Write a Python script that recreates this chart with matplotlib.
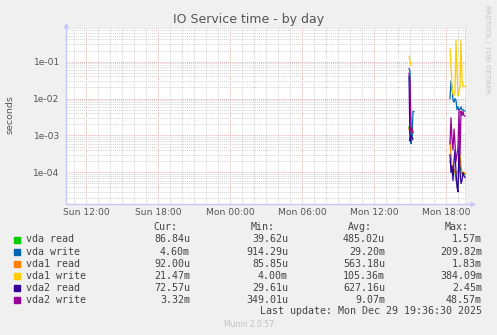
import matplotlib
matplotlib.use('Agg')
import matplotlib.pyplot as plt
import matplotlib.dates as mdates
from matplotlib.patches import Rectangle
from matplotlib.ticker import LogLocator, NullFormatter, FixedLocator
import numpy as np
import pandas as pd

W, H = 497, 335
nan = np.nan

# visible window, 5 minutes per pixel
t_start = pd.Timestamp('2025-12-28 10:20')
t_end = pd.Timestamp('2025-12-29 19:40')

times1 = pd.date_range('2025-12-29 14:55', periods=6, freq='5min')
times2 = pd.date_range('2025-12-29 18:20', periods=16, freq='5min')

# burst 1 (Mon ~15:00) and burst 2 (Mon 18:20 - 19:35), seconds
vda_read_1 = [0.0017, 0.0011, 0.0015, 0.0010, 0.0012, nan]
vda_read_2 = [0.0002, 0.00015, 0.0001, 0.00008, 0.00012, 0.0001, 0.00006, 0.00005,
              0.00004, 0.00012, 0.00015, 0.0001, 0.00009, 0.00008, 0.00009, 0.0000868]
vda_write_1 = [0.065, 0.055, 0.0006, 0.0008, 0.0045, 0.0044]
vda_write_2 = [0.01, 0.03, 0.02, 0.009, 0.008, 0.01, 0.009, 0.005, 0.006, 0.005,
               0.005, 0.006, 0.005, 0.005, 0.0047, 0.0046]
vda1_read_1 = [0.0015, 0.0018, 0.0013, 0.0014, 0.0012, nan]
vda1_read_2 = [0.0007, 0.0003, 0.00015, 0.0001, 0.00012, 0.0001, 0.00009, 0.0001,
               0.00011, 0.0001, 0.0003, 0.00015, 0.0001, 0.00009, 0.0001, 0.000092]
vda1_write_1 = [0.14, 0.11, 0.08, nan, nan, nan]
vda1_write_2 = [0.23, 0.08, 0.02, 0.013, 0.012, 0.015, 0.38, 0.05, 0.012, 0.015,
                0.02, 0.384, 0.03, 0.021, 0.022, 0.02147]
vda2_read_1 = [0.04, 0.0007, 0.001, 0.0009, 0.0008, nan]
vda2_read_2 = [0.0003, 0.0001, 0.00015, 0.00006, 0.0002, 0.0004, 0.0001, 0.00004,
               0.0000296, 0.0007, 0.0001, 0.00005, 0.00006, 0.0001, 0.00008, 0.0000726]
vda2_write_1 = [0.0486, 0.03, 0.0013, 0.0016, 0.0012, nan]
vda2_write_2 = [0.0006, 0.003, 0.0008, 0.0004, 0.0015, 0.0006, 0.0002, 0.0003,
                0.0005, 0.005, 0.0003, 0.0045, 0.0035, 0.0045, 0.0034, 0.00332]

labels = ['vda read', 'vda write', 'vda1 read', 'vda1 write', 'vda2 read', 'vda2 write']
colors = ['#00CC00', '#0066B3', '#FF8000', '#FFCC00', '#330099', '#990099']
cur = ['86.84u', '4.60m', '92.00u', '21.47m', '72.57u', '3.32m']
mins = ['39.62u', '914.29u', '85.85u', '4.00m', '29.61u', '349.01u']
avgs = ['485.02u', '29.20m', '563.18u', '105.36m', '627.16u', '9.07m']
maxs = ['1.57m', '209.82m', '1.83m', '384.09m', '2.45m', '48.57m']

series = [(vda_read_1, vda_read_2), (vda_write_1, vda_write_2),
          (vda1_read_1, vda1_read_2), (vda1_write_1, vda1_write_2),
          (vda2_read_1, vda2_read_2), (vda2_write_1, vda2_write_2)]

bg = '#F0F0F0'
txt = '#555555'

fig = plt.figure(figsize=(W / 100, H / 100), dpi=100, facecolor=bg)
# plot area 66..466 x 28..203.5 px
ax = fig.add_axes([66 / W, 1 - 203.5 / H, 400 / W, 175.5 / H])
ax.set_facecolor('white')

gap = [times1[-1] + pd.Timedelta('5min')]
t_all = list(times1) + gap + list(times2)
for (a, b), c in zip(series, colors):
    ax.plot(t_all, list(a) + [nan] + list(b), color=c, lw=0.9, zorder=3)

ax.set_yscale('log')
ax.set_ylim(1.43e-5, 0.818)
ax.set_xlim(t_start, t_end)

ax.yaxis.set_major_locator(FixedLocator([1e-4, 1e-3, 1e-2, 1e-1]))
ax.yaxis.set_major_formatter(plt.FuncFormatter(lambda v, p: '%.0e' % v if v < 1 else ''))
ax.yaxis.set_minor_locator(LogLocator(base=10, subs=np.arange(2, 10)))
ax.yaxis.set_minor_formatter(NullFormatter())

ax.xaxis.set_major_locator(mdates.HourLocator(byhour=[0, 6, 12, 18]))
ax.xaxis.set_major_formatter(mdates.DateFormatter('%a %H:%M'))
ax.xaxis.set_minor_locator(mdates.HourLocator())

ax.grid(which='minor', color='#d2d2d2', ls=(0, (1, 1)), lw=0.7)
ax.grid(which='major', color='#e8b0b0', ls=(0, (1, 1)), lw=0.7)
ax.set_axisbelow(True)

ax.tick_params(which='both', length=0, labelsize=6.6, labelcolor=txt)
ax.tick_params(axis='x', pad=3.5)
ax.tick_params(axis='y', pad=4.5)

for s in ['top', 'right']:
    ax.spines[s].set_visible(False)
for s in ['left', 'bottom']:
    ax.spines[s].set_color('#c8c8f8')
    ax.spines[s].set_linewidth(1)

# axis arrows
ax.plot([1.0, 1.015], [0, 0], transform=ax.transAxes, color='#c8c8f8', lw=1, clip_on=False)
ax.plot([1.017], [0], transform=ax.transAxes, marker='>', ms=4, color='#c8c8f8',
        mec='none', clip_on=False)
ax.plot([0], [1.015], transform=ax.transAxes, marker='^', ms=4, color='#c8c8f8',
        mec='none', clip_on=False)

# now line at the right edge
ax.axvline(pd.Timestamp('2025-12-29 19:38'), color='#888888', lw=1, zorder=4)

fig.text(0.5, 1 - 19.5 / H, 'IO Service time - by day', ha='center', va='center',
         fontsize=9, color=txt)
fig.text(10 / W, 1 - 115 / H, 'seconds', rotation=90, ha='center', va='center',
         fontsize=6.8, color=txt)
fig.text(487 / W, 1 - 5 / H, 'RRDTOOL / TOBI OETIKER', rotation=270, ha='center',
         va='top', fontsize=5, color='#c4c4c4')

# legend
mono = 'DejaVu Sans Mono'
lc = '#444444'
col_right = [190, 288, 385, 482]
for x, h in zip(col_right, ['Cur:', 'Min:', 'Avg:', 'Max:']):
    fig.text((x - 13) / W, 1 - 227.5 / H, h, ha='right', va='center',
             family=mono, fontsize=7.2, color=lc)
for i, lab in enumerate(labels):
    y = 239.5 + 12.1 * i
    fig.patches.append(Rectangle((14 / W, 1 - (y + 3) / H), 6 / W, 6 / H,
                                 transform=fig.transFigure, color=colors[i]))
    fig.text(26 / W, 1 - y / H, lab, ha='left', va='center', family=mono,
             fontsize=7.2, color=lc)
    for x, v in zip(col_right, [cur[i], mins[i], avgs[i], maxs[i]]):
        fig.text(x / W, 1 - y / H, v, ha='right', va='center', family=mono,
                 fontsize=7.2, color=lc)

fig.text(482 / W, 1 - 311.5 / H, 'Last update: Mon Dec 29 19:36:30 2025', ha='right',
         va='center', family=mono, fontsize=7.2, color=lc)
fig.text(0.5, 1 - 324.5 / H, 'Munin 2.0.57', ha='center', va='center', fontsize=5.5,
         color='#c0c0c0')

fig.savefig('out.png', dpi=100, facecolor=bg)
